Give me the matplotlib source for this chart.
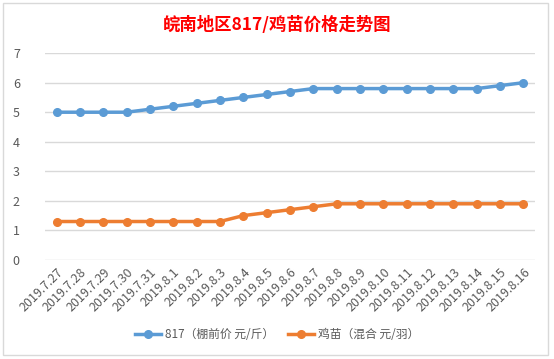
import matplotlib.pyplot as plt
from matplotlib.patches import Rectangle

plt.rcParams['font.family'] = ['Noto Sans CJK SC', 'DejaVu Sans']

# 日期与价格数据
dates = ['2019.7.27', '2019.7.28', '2019.7.29', '2019.7.30', '2019.7.31',
         '2019.8.1', '2019.8.2', '2019.8.3', '2019.8.4', '2019.8.5', '2019.8.6',
         '2019.8.7', '2019.8.8', '2019.8.9', '2019.8.10', '2019.8.11',
         '2019.8.12', '2019.8.13', '2019.8.14', '2019.8.15', '2019.8.16']
price_817 = [5.0, 5.0, 5.0, 5.0, 5.1, 5.2, 5.3, 5.4, 5.5, 5.6, 5.7,
             5.8, 5.8, 5.8, 5.8, 5.8, 5.8, 5.8, 5.8, 5.9, 6.0]
price_chick = [1.3, 1.3, 1.3, 1.3, 1.3, 1.3, 1.3, 1.3, 1.5, 1.6, 1.7,
               1.8, 1.9, 1.9, 1.9, 1.9, 1.9, 1.9, 1.9, 1.9, 1.9]
label_817 = '817（棚前价 元/斤）'
label_chick = '鸡苗（混合 元/羽）'
y_ticks = [0, 1, 2, 3, 4, 5, 6, 7]

fig = plt.figure(figsize=(5.54, 3.59), dpi=100)
ax = fig.add_axes([0.081, 0.276, 0.885, 0.576])

# 图表外框
W, H = 554, 359
fig.patches.append(Rectangle((3 / W, 1 - 355 / H), 545 / W, 352 / H,
                             transform=fig.transFigure, fill=False,
                             edgecolor='#D9D9D9', lw=1))

x = range(len(dates))
ax.plot(x, price_817, color='#5B9BD5', lw=2.5, marker='o', ms=5.5, label=label_817)
ax.plot(x, price_chick, color='#ED7D31', lw=2.5, marker='o', ms=5.5, label=label_chick)

ax.set_xlim(-0.5, len(dates) - 0.5)
ax.set_ylim(0, 7)
ax.set_yticks(y_ticks)
ax.set_xticks(list(x))
ax.set_xticklabels(dates, rotation=45, ha='right', rotation_mode='anchor')
ax.tick_params(axis='both', length=0, labelsize=9, colors='#595959')
ax.tick_params(axis='y', pad=18)
ax.tick_params(axis='x', pad=4)
ax.grid(axis='y', color='#D9D9D9', lw=1)
ax.set_axisbelow(True)
for s in ax.spines.values():
    s.set_visible(False)

fig.text(0.5, 1 - 25 / H, '皖南地区817/鸡苗价格走势图', ha='center', va='center',
         color='#FF0000', fontsize=12.5, fontweight='bold')

fig.legend(loc='center', bbox_to_anchor=(0.5, 1 - 335 / H), ncol=2, frameon=False,
           fontsize=8.5, labelcolor='#595959', handlelength=2.2, handletextpad=0.3,
           columnspacing=1.2)

fig.savefig('out.png', dpi=100)
